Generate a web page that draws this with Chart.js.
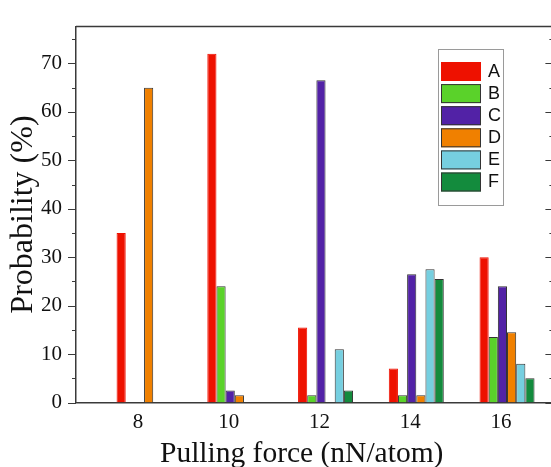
<!DOCTYPE html>
<html>
<head>
<meta charset="utf-8">
<script src="https://cdn.jsdelivr.net/npm/chart.js@4.4.1/dist/chart.umd.min.js"></script>
<style>
  html, body { margin: 0; padding: 0; background: #fff; overflow: hidden; }
  canvas { display: block; }
</style>
</head>
<body>
<canvas id="chart" width="556" height="467"></canvas>
<script>
// Pulling force (nN/atom) on the x axis
const forces = [8, 10, 12, 14, 16];

// Probability (%) of each configuration; null = no bar at that force
const seriesA = [35, 72, 15.5, 7, 30];
const seriesB = [null, 24, 1.5, 1.5, 13.5];
const seriesC = [null, 2.5, 66.5, 26.5, 24];
const seriesD = [65, 1.5, null, 1.5, 14.5];
const seriesE = [null, null, 11, 27.5, 8];
const seriesF = [null, null, 2.5, 25.5, 5];

const seriesNames = ['A', 'B', 'C', 'D', 'E', 'F'];
const yTickValues = [0, 10, 20, 30, 40, 50, 60, 70];

const fills = ['#ee1100', '#5ad22a', '#5222a6', '#f08000', '#76cfe0', '#138b3d'];
const edges = ['#ee1100', '#333333', '#333333', '#333333', '#333333', '#333333'];
const axisColor = '#3a3a3a';
const serif = "'Liberation Serif', 'Times New Roman', serif";
const xTitle = 'Pulling force (nN/atom)';

const datasets = [seriesA, seriesB, seriesC, seriesD, seriesE, seriesF].map((d, i) => ({
    label: seriesNames[i],
    data: d,
    backgroundColor: fills[i],
    borderColor: edges[i],
    borderWidth: 1,
    categoryPercentage: 0.606,
    barPercentage: 1
}));

// top/right frame, minor ticks, x title and the boxed legend
const framePlugin = {
    id: 'frame',
    afterDraw(chart) {
        const ctx = chart.ctx;
        const area = chart.chartArea;
        const y = chart.scales.y;

        ctx.save();
        ctx.strokeStyle = axisColor;
        ctx.lineWidth = 1.5;
        ctx.beginPath();
        ctx.moveTo(area.left, area.top);
        ctx.lineTo(area.right, area.top);
        ctx.lineTo(area.right, area.bottom);
        ctx.stroke();

        ctx.lineWidth = 1.2;
        for (let v = 0; v <= y.max; v += 5) {
            const py = Math.round(y.getPixelForValue(v)) + 0.5;
            const major = v % 10 === 0;
            ctx.beginPath();
            ctx.moveTo(area.left, py);
            ctx.lineTo(area.left - (major ? 8 : 4), py);
            ctx.moveTo(area.right, py);
            ctx.lineTo(area.right - (major ? 7 : 3), py);
            ctx.stroke();
        }

        // x title sits under the tick labels, which are shifted left of the groups
        ctx.fillStyle = '#111';
        ctx.font = '29.5px ' + serif;
        ctx.textAlign = 'center';
        ctx.textBaseline = 'alphabetic';
        ctx.fillText(xTitle, 301.7, 461.7);

        // legend box
        const box = { x: 438.5, y: 49.5, w: 65, h: 156 };
        ctx.strokeStyle = '#9a9a9a';
        ctx.lineWidth = 1;
        ctx.fillStyle = '#ffffff';
        ctx.fillRect(box.x, box.y, box.w, box.h);
        ctx.strokeRect(box.x, box.y, box.w, box.h);

        ctx.font = "18px 'Liberation Sans', Arial, sans-serif";
        ctx.textAlign = 'left';
        ctx.textBaseline = 'middle';
        chart.data.datasets.forEach((ds, i) => {
            const sy = 62 + i * 22.1;
            ctx.fillStyle = ds.backgroundColor;
            ctx.fillRect(441, sy, 40, 19);
            ctx.strokeStyle = ds.borderColor;
            ctx.strokeRect(441.5, sy + 0.5, 39, 18);
            ctx.fillStyle = '#111';
            ctx.fillText(ds.label, 488, sy + 10);
        });
        ctx.restore();
    }
};

new Chart(document.getElementById('chart'), {
    type: 'bar',
    data: { labels: forces, datasets },
    options: {
        responsive: false,
        devicePixelRatio: 1,
        animation: false,
        layout: { padding: { top: 14, right: 3.6, left: 0, bottom: 0 } },
        plugins: {
            legend: { display: false },
            tooltip: { enabled: false }
        },
        scales: {
            x: {
                type: 'linear',
                offset: false,
                min: 6.5,
                max: 17,
                z: 1,
                afterBuildTicks: (scale) => {
                    scale.ticks = forces.map(v => ({ value: v }));
                },
                afterFit: (scale) => { scale.height = 64.5; },
                grid: { display: false, drawTicks: false },
                border: { display: true, color: axisColor, width: 1.5 },
                ticks: {
                    padding: 7,
                    labelOffset: -6,
                    color: '#111',
                    font: { family: serif, size: 21 }
                },
                title: { display: false }
            },
            y: {
                min: 0,
                max: 77.6,
                z: 1,
                afterBuildTicks: (scale) => {
                    scale.ticks = yTickValues.map(v => ({ value: v }));
                },
                afterFit: (scale) => { scale.width = 76; },
                grid: { display: false, drawTicks: false },
                border: { display: true, color: axisColor, width: 1.5 },
                ticks: {
                    padding: 14,
                    color: '#111',
                    font: { family: serif, size: 21 }
                },
                title: {
                    display: true,
                    text: 'Probability (%)',
                    color: '#111',
                    font: { family: serif, size: 32, lineHeight: 1 },
                    padding: { top: 8, bottom: 0 }
                }
            }
        }
    },
    plugins: [framePlugin]
});
</script>
</body>
</html>
